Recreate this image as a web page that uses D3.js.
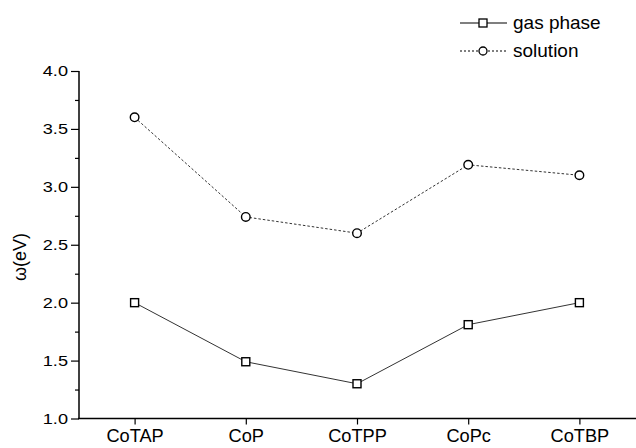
<!DOCTYPE html>
<html><head><meta charset="utf-8">
<script src="https://cdn.jsdelivr.net/npm/d3@7"></script>
<style>body{margin:0;background:#fff}svg{display:block}text{font-family:"Liberation Sans",Arial,sans-serif;fill:#000}</style>
</head><body><svg id="c" width="636" height="448"></svg>
<script>
const categories = ["CoTAP","CoP","CoTPP","CoPc","CoTBP"];
const gasPhase = [2.00,1.49,1.30,1.81,2.00];
const solution = [3.60,2.74,2.60,3.19,3.10];
const yTicks = [1.0,1.5,2.0,2.5,3.0,3.5,4.0];
const yMinor = [1.25,1.75,2.25,2.75,3.25,3.75];
const seriesNames = ["gas phase","solution"];

const FONT = "Liberation Sans, Arial, sans-serif";
const svg = d3.select("#c");
const x = d3.scalePoint().domain(categories).range([79,635]).padding(0.5);
const y = d3.scaleLinear().domain([1,4]).range([418.5,71]);

// y axis
const ya = svg.append("g").attr("transform","translate(79,0)")
  .call(d3.axisLeft(y).tickValues(yTicks).tickFormat(d3.format(".1f")).tickSize(8).tickPadding(3));
ya.select(".domain").attr("stroke","#000").attr("stroke-width",1.5).attr("d","M0,71V418.5");
ya.selectAll(".tick line").attr("stroke","#000").attr("stroke-width",1.2);
ya.selectAll(".tick text").attr("font-size",15.5).attr("font-family",FONT)
  .each(function(){const L=this.getComputedTextLength(); d3.select(this).attr("textLength",L*1.17).attr("lengthAdjust","spacingAndGlyphs");});
svg.append("g").attr("transform","translate(79,0)")
  .call(d3.axisLeft(y).tickValues(yMinor).tickFormat("").tickSize(4))
  .call(g=>{g.select(".domain").remove();g.selectAll(".tick line").attr("stroke","#000").attr("stroke-width",1.2);});

// x axis
const xa = svg.append("g").attr("transform","translate(0,418.5)")
  .call(d3.axisBottom(x).tickSize(6).tickPadding(5));
xa.select(".domain").attr("stroke","#000").attr("stroke-width",1.5).attr("d","M78,0H636");
xa.selectAll(".tick line").attr("stroke","#000").attr("stroke-width",1.2);
xa.selectAll(".tick text").attr("font-size",17.5).attr("font-family",FONT)
  .each(function(){const L=this.getComputedTextLength(); d3.select(this).attr("textLength",L*1.04).attr("lengthAdjust","spacingAndGlyphs");});

// y label
svg.append("text").attr("transform","translate(26,257) rotate(-90)")
  .attr("text-anchor","middle").attr("font-size",18).text("ω(eV)");

const line = d3.line().x((d,i)=>x(categories[i])).y(d=>y(d));
svg.append("path").datum(gasPhase).attr("d",line).attr("fill","none").attr("stroke","#333").attr("stroke-width",1);
svg.append("path").datum(solution).attr("d",line).attr("fill","none").attr("stroke","#333").attr("stroke-width",1).attr("stroke-dasharray","2.5,2");

svg.selectAll("rect.gp").data(gasPhase).join("rect").attr("class","gp")
  .attr("x",(d,i)=>x(categories[i])-4).attr("y",d=>y(d)-4).attr("width",8).attr("height",8)
  .attr("fill","#fff").attr("stroke","#000").attr("stroke-width",1.4);
svg.selectAll("circle.so").data(solution).join("circle").attr("class","so")
  .attr("cx",(d,i)=>x(categories[i])).attr("cy",d=>y(d)).attr("r",4.3)
  .attr("fill","#fff").attr("stroke","#000").attr("stroke-width",1.4);

// legend
const lg = svg.append("g");
const rows = [{n:seriesNames[0],y:23,m:"sq",dash:null},{n:seriesNames[1],y:51,m:"ci",dash:"2,2"}];
rows.forEach(r=>{
  lg.append("line").attr("x1",460).attr("x2",507).attr("y1",r.y).attr("y2",r.y)
    .attr("stroke","#000").attr("stroke-width",1.2).attr("stroke-dasharray",r.dash);
  if(r.m==="sq") lg.append("rect").attr("x",479).attr("y",r.y-4).attr("width",8).attr("height",8).attr("fill","#fff").attr("stroke","#000").attr("stroke-width",1.3);
  else lg.append("circle").attr("cx",483).attr("cy",r.y).attr("r",4).attr("fill","#fff").attr("stroke","#000").attr("stroke-width",1.3);
  lg.append("text").attr("x",513).attr("y",r.y+6).attr("font-size",19).text(r.n);
});
</script></body></html>
